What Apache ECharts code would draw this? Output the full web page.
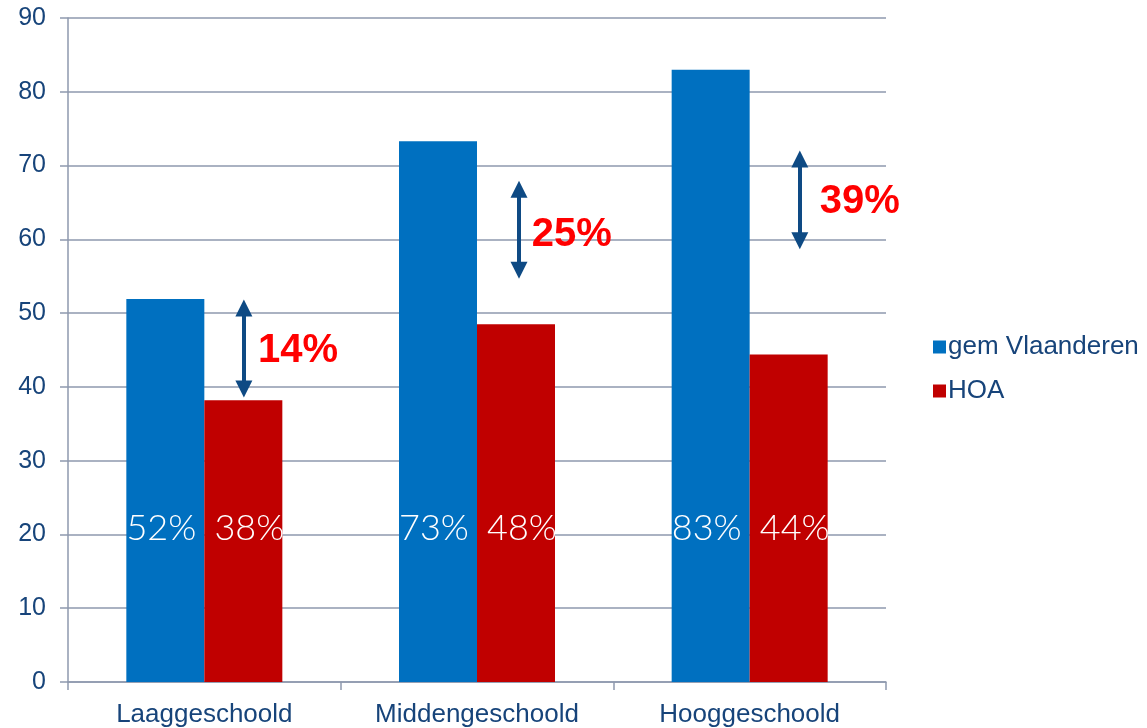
<!DOCTYPE html>
<html>
<head>
<meta charset="utf-8">
<script src="https://cdn.jsdelivr.net/npm/echarts@6/dist/echarts.min.js"></script>
<style>html,body{margin:0;padding:0;background:#fff}#c{width:1147px;height:728px}</style>
</head>
<body>
<div id="c"></div>
<script>
const categories = ['Laaggeschoold', 'Middengeschoold', 'Hooggeschoold'];
const seriesNames = ['gem Vlaanderen', 'HOA'];
const vlaanderen = [51.9, 73.3, 83.0];
const hoa = [38.2, 48.5, 44.4];
const vlaanderenLabels = ['52%', '73%', '83%'];
const hoaLabels = ['38%', '48%', '44%'];
const yTicks = { min: 0, max: 90, interval: 10 };
// arrows showing the gap (x in category units, 0..3)
const arrowX = [0.645, 1.654, 2.684];
const arrowTop = [51.8, 67.9, 72.0];
const arrowBottom = [38.6, 54.7, 58.7];
const gapLabels = ['14%', '25%', '39%'];
const gapLabelX = [0.697, 1.701, 2.757];
const gapLabelY = [45.1, 60.9, 65.4];

const axisColor = '#8E99AE';
const textColor = '#17447A';
const headHalf = 1.1; // triangle heads are centred on the line ends

const chart = echarts.init(document.getElementById('c'));
chart.setOption({
  animation: false,
  backgroundColor: '#fff',
  grid: { left: 68, right: 261, top: 18, bottom: 45, containLabel: false },
  legend: {
    orient: 'vertical', left: 928, top: 329,
    itemWidth: 13, itemHeight: 13, itemGap: 18,
    icon: 'rect',
    data: seriesNames,
    textStyle: { fontFamily: 'Liberation Sans, Arial', fontSize: 26, color: textColor, padding: [0, 0, 0, -3] }
  },
  xAxis: [{
    type: 'category', data: categories,
    axisLine: { lineStyle: { color: axisColor, width: 1.5 } },
    axisTick: { show: true, length: 8, lineStyle: { color: axisColor, width: 1.5 } },
    axisLabel: { fontFamily: 'Liberation Sans, Arial', fontSize: 26, color: textColor, margin: 20 }
  }, {
    type: 'value', min: 0, max: 3, show: false
  }],
  yAxis: {
    type: 'value', min: yTicks.min, max: yTicks.max, interval: yTicks.interval,
    axisLine: { show: true, lineStyle: { color: axisColor, width: 1.5 } },
    axisTick: { show: true, length: 8, lineStyle: { color: axisColor, width: 1.5 } },
    splitLine: { lineStyle: { color: axisColor, width: 1.5 } },
    axisLabel: { fontFamily: 'Liberation Sans, Arial', fontSize: 25, color: textColor, margin: 22 }
  },
  series: [{
    name: seriesNames[0], type: 'bar', data: vlaanderen, barWidth: 78, barGap: '0%',
    itemStyle: { color: '#0070C0' },
    label: { show: true, position: 'insideBottom', distance: 136, offset: [-4, 0], color: '#fff',
      fontFamily: 'Lato, Open Sans, sans-serif', fontWeight: 300, fontSize: 36,
      formatter: p => vlaanderenLabels[p.dataIndex] }
  }, {
    name: seriesNames[1], type: 'bar', data: hoa, barWidth: 78,
    itemStyle: { color: '#C00000' },
    label: { show: true, position: 'insideBottom', distance: 136, offset: [6, 0], color: '#fff',
      fontFamily: 'Lato, Open Sans, sans-serif', fontWeight: 300, fontSize: 36,
      formatter: p => hoaLabels[p.dataIndex] }
  }, {
    type: 'lines', coordinateSystem: 'cartesian2d', xAxisIndex: 1, yAxisIndex: 0,
    symbol: ['triangle', 'triangle'], symbolSize: [17, 17],
    lineStyle: { color: '#0E4A84', width: 4, opacity: 1 },
    data: arrowX.map((x, i) => ({ coords: [[x, arrowTop[i] - headHalf], [x, arrowBottom[i] + headHalf]] })),
    z: 5
  }, {
    type: 'scatter', xAxisIndex: 1, yAxisIndex: 0, symbolSize: 0,
    itemStyle: { opacity: 1 },
    data: gapLabelX.map((x, i) => [x, gapLabelY[i]]),
    label: { show: true, position: 'right', distance: 0, offset: [0, 2], color: '#FF0000',
      fontFamily: 'Liberation Sans, Arial', fontWeight: 'bold', fontSize: 40,
      formatter: p => gapLabels[p.dataIndex] },
    silent: true, z: 6
  }]
});
</script>
</body>
</html>
